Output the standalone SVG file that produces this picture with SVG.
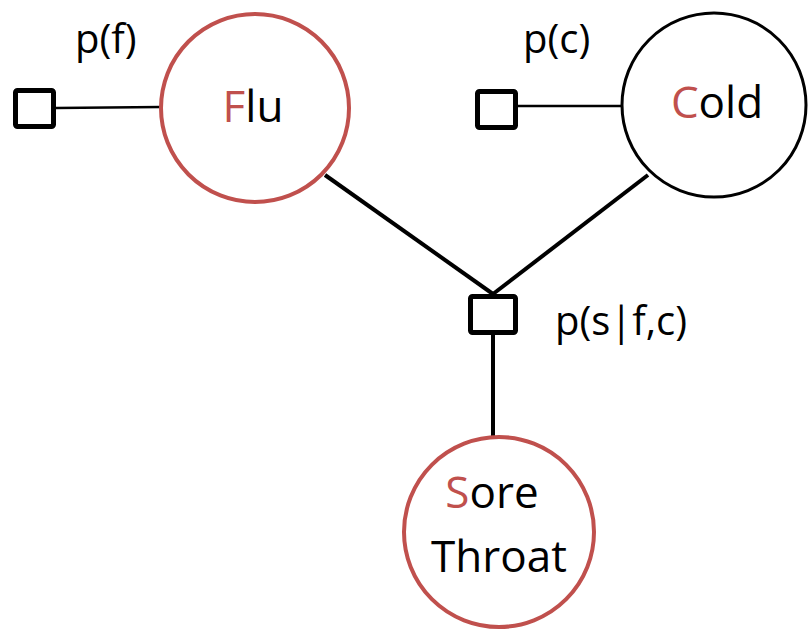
<svg xmlns="http://www.w3.org/2000/svg" width="808" height="631" viewBox="0 0 808 631">
<style>
.lbl{font-family:"Open Sans","Noto Sans",sans-serif;font-size:40px;fill:#000}
.nm{font-family:"Open Sans","Noto Sans",sans-serif;font-size:44px;fill:#000;text-anchor:middle}
.r{fill:#C0504D}
.fac{fill:#fff;stroke:#000;stroke-width:5;stroke-linejoin:round}
.thin{stroke:#000;stroke-width:2.5;fill:none}
.thick{stroke:#000;stroke-width:4;fill:none}
</style>
<rect width="808" height="631" fill="#fff"/>
<g id="connectors">
<line class="thin" x1="56" y1="108" x2="161" y2="107"/>
<line class="thin" x1="518" y1="106" x2="622" y2="106"/>
<line class="thick" x1="325" y1="175" x2="493" y2="294"/>
<line class="thick" x1="648" y1="175" x2="493" y2="294"/>
<line class="thick" x1="493" y1="334" x2="493" y2="437"/>
</g>
<g id="flu">
<circle cx="255" cy="108" r="94" fill="#fff" stroke="#C0504D" stroke-width="4"/>
<text class="nm" x="253" y="122"><tspan class="r">F</tspan>lu</text>
</g>
<g id="cold">
<circle cx="714" cy="105" r="92" fill="#fff" stroke="#000" stroke-width="3"/>
<text class="nm" x="717" y="118"><tspan class="r">C</tspan>old</text>
</g>
<g id="sore">
<circle cx="499" cy="532" r="95" fill="#fff" stroke="#C0504D" stroke-width="4"/>
<text class="nm" x="492" y="508"><tspan class="r">S</tspan>ore</text>
<text class="nm" x="499" y="572">Throat</text>
</g>
<g id="factor-f">
<rect class="fac" x="15.5" y="90.5" width="38" height="36" rx="2"/>
<text class="lbl" x="75" y="53">p(f)</text>
</g>
<g id="factor-c">
<rect class="fac" x="477.5" y="91.5" width="38" height="36" rx="2"/>
<text class="lbl" x="523" y="53">p(c)</text>
</g>
<g id="factor-s">
<rect class="fac" x="470.5" y="296.5" width="45" height="36" rx="2"/>
<text class="lbl" x="555" y="335">p(s|f,c)</text>
</g>
</svg>
